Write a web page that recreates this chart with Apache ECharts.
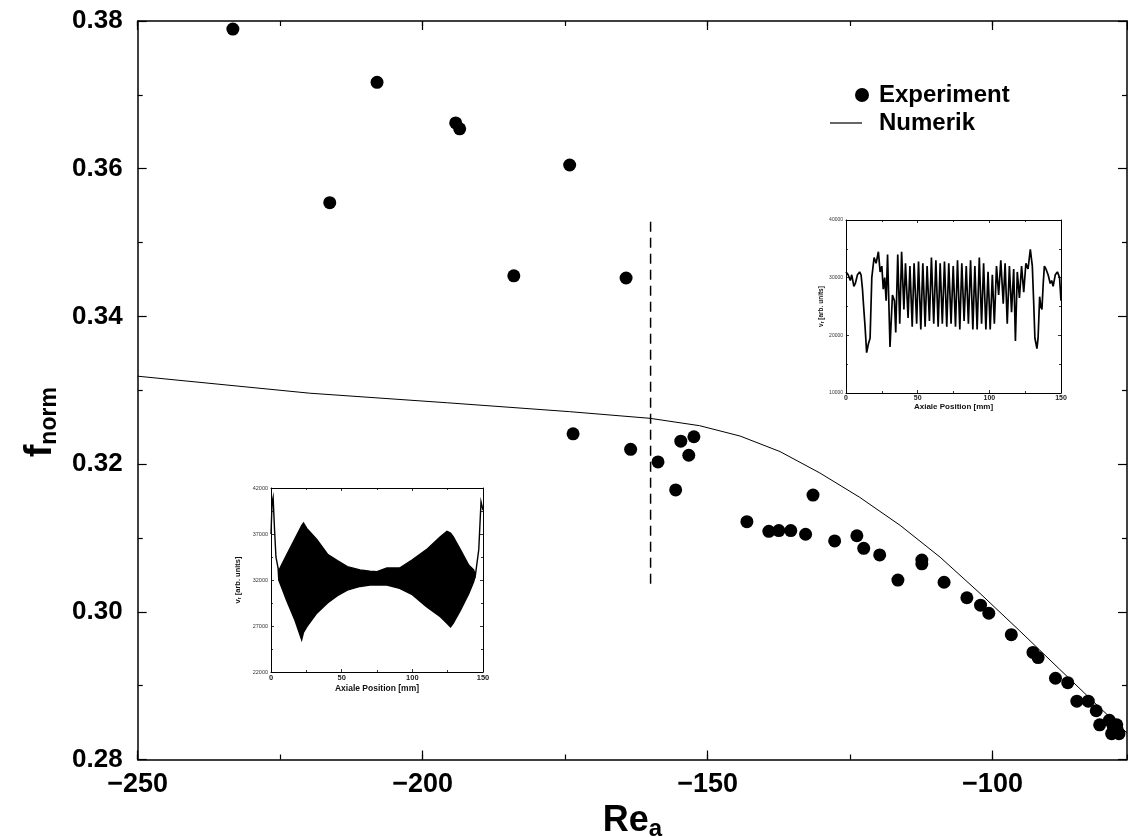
<!DOCTYPE html>
<html><head><meta charset="utf-8">
<script src="https://cdn.jsdelivr.net/npm/echarts@6/dist/echarts.min.js"></script>
<style>html,body{margin:0;padding:0;background:#fff}#c{width:1128px;height:837px}</style>
</head><body><div id="c"></div>
<script>
// ---- main chart data ----
const expRe = [-233.3, -216.3, -208.0, -194.2, -193.5, -184.0, -174.2, -173.6, -164.3, -163.5,
  -158.7, -155.6, -154.7, -153.3, -152.4, -143.1, -139.25, -137.5, -135.4, -132.8,
  -131.5, -127.7, -123.8, -122.6, -119.8, -116.6, -112.4, -112.4, -108.5, -104.5,
  -102.1, -100.65, -96.7, -92.9, -92.0, -88.95, -86.8, -85.2, -83.2, -81.8,
  -81.2, -79.5, -78.8, -78.1, -77.8, -79.1, -78.2];
const expF = [0.3789, 0.3554, 0.3717, 0.3662, 0.3654, 0.3455, 0.3605, 0.3241, 0.3452, 0.3220,
  0.3203, 0.3165, 0.3231, 0.3212, 0.3237, 0.3122, 0.3109, 0.3110, 0.3110, 0.3105,
  0.3158, 0.3096, 0.3103, 0.3086, 0.3077, 0.3043, 0.3070, 0.3065, 0.3040, 0.3019,
  0.3009, 0.2998, 0.2969, 0.2945, 0.2938, 0.2910, 0.2904, 0.2879, 0.2879, 0.2866,
  0.2847, 0.2853, 0.2844, 0.2840, 0.2835, 0.2835, 0.2847];
const numRe = [-250, -219.8, -195.6, -174.2, -160.1, -151.4, -144.3, -137.3, -130.3, -123.3,
  -116.2, -109.2, -102.2, -95.2, -88.2, -81.3, -76.4];
const numF = [0.3319, 0.3296, 0.3283, 0.3271, 0.3262, 0.3252, 0.3238, 0.3217, 0.3188, 0.3155,
  0.3117, 0.3074, 0.3025, 0.2974, 0.2922, 0.2871, 0.2836];
const dashRe = [-160, -160];
const dashF = [0.3528, 0.3036];

// ---- inset 1 (upper right) ----
const in1X = [0, 1.5, 3, 4, 5.5, 6.5, 8, 9.5, 10.5, 11.5, 12.3, 13.3, 14.4, 15.6, 16.8, 18, 19.6, 21, 22.6, 23.8,
  25, 26, 27, 28, 29, 30.7, 32.4, 33.8, 34.7, 36.1,
  37.5, 38.8, 40.4, 41.5, 43.3, 44.6, 46.2, 47.5, 49.3, 50.6, 52.2, 53.6, 55.2, 56.6, 58.2, 59.6, 61.2, 62.7, 64.3, 65.7,
  67.2, 68.7, 70.3, 71.7, 73.3, 74.8, 76.4, 77.8, 79.4, 80.8, 82.4, 83.9, 85.4, 86.9, 88.5, 89.9, 91.5, 93.0, 94.6, 96.0,
  97.6, 99.1, 100.6, 102.1, 103.5, 105.0, 106.5, 108.0, 109.7, 111.0, 112.5, 114.0, 115.5, 117.0, 118.2, 119.5, 121.0, 122.5, 124.0,
  125.5, 127, 128.6, 130, 130.9, 131.8, 132.6, 133.2, 134, 135.1, 135.9, 136.7, 137.6, 138.4, 139.5, 141, 142.5, 143.5, 144.5, 146,
  147.5, 149, 150];
const in1V = [31000, 30500, 29500, 30500, 28500, 29000, 30500, 31000, 30500, 28000, 25000, 21500, 17000, 18500, 19500, 30000, 33500, 32500, 34500, 31000,
  32000, 28000, 30000, 26000, 34000, 18000, 27000, 26000, 20500, 34000,
  22000, 34500, 24500, 32500, 23000, 32000, 21500, 32500, 22000, 32800, 21000, 32500, 21500, 32000, 22500, 33500, 22000, 33000, 21500, 32500,
  22000, 32800, 21500, 32500, 22000, 32000, 21500, 33000, 21000, 32500, 22500, 32000, 22000, 33000, 21000, 32000, 21000, 33500, 22000, 32500,
  21000, 31000, 21000, 30500, 22000, 32000, 27000, 33000, 25500, 32500, 22000, 32000, 24000, 31500, 19000, 31000, 26500, 32000, 27500,
  32500, 31500, 34900, 32000, 26000, 19500, 18500, 17700, 19500, 26700, 25000, 24500, 29000, 32000, 31500, 30500, 29000, 29500, 28500, 30500,
  31000, 30000, 26000];

// ---- inset 2 (lower left): envelope of the dense signal ----
const in2X = [0, 0.8, 1.5, 2.5, 3.5, 5, 5.5, 7, 11, 17, 21.7, 23, 25.3, 32.4, 40, 47, 54, 63, 70, 75,
  82, 91, 100, 110, 119.8, 124.5, 127, 129, 134, 140, 143.4, 144.6, 147, 148.6, 150];
const in2Hi = [37000, 40500, 41000, 37500, 34500, 33300, 33000, 33500, 34700, 36500, 37900, 38200, 37600, 36400, 34800, 34100, 33450, 33100, 32950, 32900,
  33300, 33300, 34200, 35300, 36700, 37300, 37100, 36700, 35300, 33600, 33100, 32500, 35300, 40500, 39600];
const in2Lo = [37000, 40500, 41000, 37500, 34500, 33300, 32000, 31400, 29800, 27600, 25500, 26300, 26900, 28400, 29500, 30300, 30900, 31300, 31450, 31450,
  31450, 31100, 30400, 29100, 28000, 27300, 26900, 27300, 28700, 30550, 31800, 32500, 35300, 40500, 39600];

const SANS = "'Liberation Sans', Arial, Helvetica, sans-serif";
const minus = v => (v < 0 ? '\u2212' : '') + Math.abs(v);

function xAx(o) {
  return Object.assign({
    type: 'value', splitLine: { show: false },
    axisLine: { show: false, onZero: false, lineStyle: { color: '#000', width: 1.5 } },
    axisTick: { show: true, inside: true, length: 9, lineStyle: { color: '#000', width: 1.2 } },
    axisLabel: { show: false }
  }, o);
}
function insetAxis(o) {
  return Object.assign({
    type: 'value', splitLine: { show: false },
    axisLine: { show: true, onZero: false, lineStyle: { color: '#000', width: 1 } },
    axisTick: { show: true, inside: true, length: 3, lineStyle: { color: '#000', width: 0.8 } },
    minorTick: { show: true, splitNumber: 2, length: 2, lineStyle: { color: '#000', width: 0.8 } },
    axisLabel: { show: false }
  }, o);
}

const chart = echarts.init(document.getElementById('c'), null, { renderer: 'canvas' });
chart.setOption({
  animation: false,
  backgroundColor: '#fff',
  grid: [
    { left: 137.7, top: 21, right: 1, bottom: 77.5, outerBoundsMode: 'none' },
    { left: 846, top: 220, width: 215, height: 173, outerBoundsMode: 'none' },
    { left: 271, top: 488, width: 212, height: 184, outerBoundsMode: 'none' }
  ],
  legend: [
    { data: ['Experiment'], left: 850, top: 78, itemWidth: 14, itemHeight: 14, selectedMode: false,
      textStyle: { fontFamily: SANS, fontWeight: 'bold', fontSize: 24, color: '#000', padding: [0, 0, 0, 5] } },
    { data: [{ name: 'Numerik', icon: 'rect' }], left: 825, top: 106, itemWidth: 32, itemHeight: 1.2, selectedMode: false,
      textStyle: { fontFamily: SANS, fontWeight: 'bold', fontSize: 24, color: '#000', padding: [0, 0, 0, 12] } }
  ],
  xAxis: [
    xAx({ gridIndex: 0, position: 'bottom', min: -250, max: -76.4, interval: 50,
      axisLine: { show: true, onZero: false, lineStyle: { color: '#000', width: 1.5 } },
      axisLabel: { show: true, showMaxLabel: false, margin: 12, fontFamily: SANS, fontWeight: 'bold', fontSize: 27, color: '#000', formatter: minus },
      name: '{r|Re}{s|a}', nameLocation: 'middle', nameGap: 41,
      nameTextStyle: { rich: {
        r: { fontFamily: SANS, fontWeight: 'bold', fontSize: 36, color: '#000' },
        s: { fontFamily: SANS, fontWeight: 'bold', fontSize: 24, color: '#000', padding: [16, 0, 0, 0] } } } }),
    xAx({ gridIndex: 0, position: 'bottom', min: -250, max: -76.4, interval: 25,
      axisTick: { show: true, inside: true, length: 5, lineStyle: { color: '#000', width: 1.2 } } }),
    xAx({ gridIndex: 0, position: 'top', min: -250, max: -76.4, interval: 50,
      axisLine: { show: true, onZero: false, lineStyle: { color: '#000', width: 1.5 } } }),
    xAx({ gridIndex: 0, position: 'top', min: -250, max: -76.4, interval: 25,
      axisTick: { show: true, inside: true, length: 5, lineStyle: { color: '#000', width: 1.2 } } }),
    insetAxis({ gridIndex: 1, position: 'bottom', min: 0, max: 150, interval: 50,
      axisLabel: { show: true, margin: 2, fontFamily: SANS, fontWeight: 'bold', fontSize: 7, color: '#222' },
      name: 'Axiale Position [mm]', nameLocation: 'middle', nameGap: 9,
      nameTextStyle: { fontFamily: SANS, fontWeight: 'bold', fontSize: 8, color: '#111' } }),
    insetAxis({ gridIndex: 1, position: 'top', min: 0, max: 150, interval: 50 }),
    insetAxis({ gridIndex: 2, position: 'bottom', min: 0, max: 150, interval: 50,
      axisLabel: { show: true, margin: 2, fontFamily: SANS, fontWeight: 'bold', fontSize: 7.5, color: '#222' },
      name: 'Axiale Position [mm]', nameLocation: 'middle', nameGap: 12,
      nameTextStyle: { fontFamily: SANS, fontWeight: 'bold', fontSize: 8.5, color: '#111' } }),
    insetAxis({ gridIndex: 2, position: 'top', min: 0, max: 150, interval: 50 })
  ],
  yAxis: [
    { type: 'value', gridIndex: 0, position: 'left', min: 0.28, max: 0.38, interval: 0.02,
      splitLine: { show: false },
      axisLine: { show: true, onZero: false, lineStyle: { color: '#000', width: 1.5 } },
      axisTick: { show: true, inside: true, length: 9, lineStyle: { color: '#000', width: 1.2 } },
      minorTick: { show: true, splitNumber: 2, length: 5, lineStyle: { color: '#000', width: 1.2 } },
      axisLabel: { show: true, margin: 15, fontFamily: SANS, fontWeight: 'bold', fontSize: 26, color: '#000', formatter: v => v.toFixed(2) },
      name: '{f|f}{s|norm}', nameLocation: 'middle', nameGap: 60, nameRotate: 90,
      nameTextStyle: { padding: [0, 64, 0, 0], rich: {
        f: { fontFamily: SANS, fontWeight: 'bold', fontSize: 38, color: '#000' },
        s: { fontFamily: SANS, fontWeight: 'bold', fontSize: 23, color: '#000', padding: [18, 0, 0, 0] } } } },
    { type: 'value', gridIndex: 0, position: 'right', min: 0.28, max: 0.38, interval: 0.02,
      splitLine: { show: false },
      axisLine: { show: true, onZero: false, lineStyle: { color: '#000', width: 1.5 } },
      axisTick: { show: true, inside: true, length: 9, lineStyle: { color: '#000', width: 1.2 } },
      minorTick: { show: true, splitNumber: 2, length: 5, lineStyle: { color: '#000', width: 1.2 } },
      axisLabel: { show: false } },
    insetAxis({ gridIndex: 1, position: 'left', min: 10000, max: 40000, interval: 10000,
      axisLabel: { show: true, margin: 3, fontFamily: SANS, fontSize: 5, color: '#333', formatter: v => String(v) },
      name: '{a|v}{b|r}{a| [arb. units]}', nameLocation: 'middle', nameGap: 20, nameRotate: 90,
      nameTextStyle: { rich: {
        a: { fontFamily: SANS, fontWeight: 'bold', fontSize: 6.5, color: '#111' },
        b: { fontFamily: SANS, fontWeight: 'bold', fontSize: 4.5, color: '#111', padding: [3, 0, 0, 0] } } } }),
    insetAxis({ gridIndex: 1, position: 'right', min: 10000, max: 40000, interval: 10000 }),
    insetAxis({ gridIndex: 2, position: 'left', min: 22000, max: 42000, interval: 5000,
      axisLabel: { show: true, margin: 3, fontFamily: SANS, fontSize: 5.5, color: '#333', formatter: v => String(v) },
      name: '{a|v}{b|r}{a| [arb. units]}', nameLocation: 'middle', nameGap: 29, nameRotate: 90,
      nameTextStyle: { rich: {
        a: { fontFamily: SANS, fontWeight: 'bold', fontSize: 7.5, color: '#111' },
        b: { fontFamily: SANS, fontWeight: 'bold', fontSize: 5, color: '#111', padding: [3, 0, 0, 0] } } } }),
    insetAxis({ gridIndex: 2, position: 'right', min: 22000, max: 42000, interval: 5000 })
  ],
  series: [
    { name: 'Experiment', type: 'scatter', xAxisIndex: 0, yAxisIndex: 0, symbol: 'circle', symbolSize: 13,
      itemStyle: { color: '#000', opacity: 1 }, z: 4,
      data: expRe.map((x, i) => [x, expF[i]]) },
    { name: 'Numerik', type: 'line', xAxisIndex: 0, yAxisIndex: 0, symbol: 'none', showSymbol: false,
      lineStyle: { color: '#000', width: 1 }, itemStyle: { color: '#000' }, z: 3,
      data: numRe.map((x, i) => [x, numF[i]]) },
    { name: 'marker', type: 'line', xAxisIndex: 0, yAxisIndex: 0, symbol: 'none',
      lineStyle: { color: '#000', width: 1.5, type: [10, 6] },
      data: dashRe.map((x, i) => [x, dashF[i]]) },
    { name: 'inset1', type: 'line', xAxisIndex: 4, yAxisIndex: 2, symbol: 'none',
      lineStyle: { color: '#000', width: 1.7 },
      data: in1X.map((x, i) => [x, in1V[i]]) },
    { name: 'inset2', type: 'custom', xAxisIndex: 6, yAxisIndex: 4,
      data: in2X.map((x, i) => [x, in2Hi[i], in2Lo[i]]),
      encode: { x: 0, y: [1, 2] },
      renderItem: function (params, api) {
        if (params.dataIndex !== 0) return null;
        const pts = [];
        for (let i = 0; i < in2X.length; i++) pts.push(api.coord([in2X[i], in2Hi[i]]));
        for (let i = in2X.length - 1; i >= 0; i--) pts.push(api.coord([in2X[i], in2Lo[i]]));
        return { type: 'polygon', shape: { points: pts }, style: { fill: '#000', stroke: '#000', lineWidth: 1.4 } };
      } }
  ]
});
</script></body></html>
